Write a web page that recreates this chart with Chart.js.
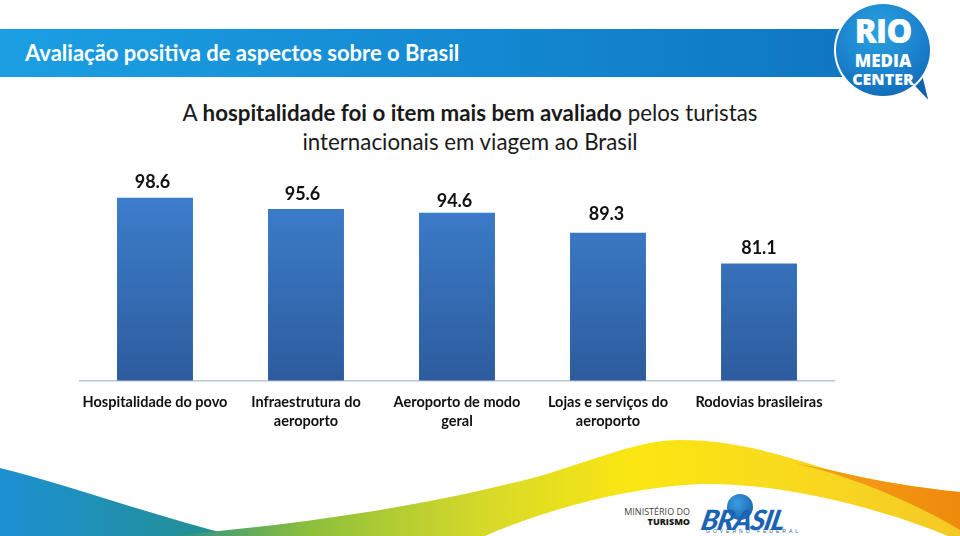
<!DOCTYPE html>
<html lang="pt">
<head>
<meta charset="utf-8">
<script src="https://cdn.jsdelivr.net/npm/chart.js@4.4.1/dist/chart.umd.min.js"></script>
<style>
  html, body { margin: 0; padding: 0; background: #ffffff; }
  #stage { position: relative; width: 960px; height: 536px; overflow: hidden; background: #fff; font-family: Lato, "Open Sans", sans-serif; }
  #waves { position: absolute; left: 0; top: 0; }
  #titlebar { position: absolute; left: 0; top: 29px; width: 860px; height: 48px;
    background: linear-gradient(90deg, #1b9fe2 0%, #1489d3 55%, #0f76c2 100%); }
  #titlebar span { position: absolute; left: 25px; top: 10px; color: #fff; font: bold 22px Lato, sans-serif; }
  #subtitle { position: absolute; left: 120px; width: 700px; top: 98px; text-align: center; color: #1a1a1a;
    font: 22.3px Lato, sans-serif; line-height: 29px; }
  #subtitle b { font-weight: bold; }
  #logo { position: absolute; left: 834px; top: 2px; width: 98px; height: 96px; }
  #logo .circle { position: absolute; left: 0; top: 0; width: 98px; height: 96px; border-radius: 50%;
    background: radial-gradient(circle at 45% 30%, #2aa2e0 0%, #1a80cc 55%, #0d5ca8 100%); border: 2px solid #ffffff; box-sizing: border-box; }
  #logo .tail { position: absolute; left: 78px; top: 70px; width: 0; height: 0; border-left: 10px solid transparent; border-right: 6px solid transparent; border-top: 30px solid #0f62ac; transform: rotate(-25deg); }
  #logo .txt { position: absolute; left: 0; width: 98px; text-align: center; color: #fff; font-family: "Open Sans", Lato, sans-serif; font-weight: 800; }
  #chartwrap { position: absolute; left: 0; top: 0; width: 960px; height: 536px; }
  #mt { position: absolute; left: 598px; top: 507px; width: 92px; text-align: right; font: 9px "Open Sans", sans-serif; color: #444; line-height: 10px; }
  #mt b { color: #1a1a1a; font-weight: 800; }
  #globe { position: absolute; left: 727px; top: 494px; width: 26px; height: 26px; border-radius: 50%; background: radial-gradient(circle at 40% 35%, #3a9ee0, #12579f); }
  #brasil { position: absolute; left: 702px; top: 502px; font: italic 900 28px Lato, sans-serif; color: #1b63b5; letter-spacing: -1px; transform: skewX(-12deg); }
  #gf { position: absolute; left: 706px; top: 528px; font: 5px sans-serif; color: #1b63b5; letter-spacing: 3px; }
</style>
</head>
<body>
<div id="stage">
  <svg id="waves" width="960" height="536" viewBox="0 0 960 536">
    <defs>
      <linearGradient id="gBlue" x1="0" y1="0" x2="1" y2="0">
        <stop offset="0" stop-color="#1d90d2"/>
        <stop offset="1" stop-color="#23908e"/>
      </linearGradient>
      <linearGradient id="gWave" x1="0" y1="0" x2="960" y2="0" gradientUnits="userSpaceOnUse">
        <stop offset="0.18" stop-color="#2a8e8a"/>
        <stop offset="0.32" stop-color="#8cbf3c"/>
        <stop offset="0.50" stop-color="#d5d92a"/>
        <stop offset="0.66" stop-color="#fbe612"/>
        <stop offset="0.85" stop-color="#f8d81f"/>
        <stop offset="1" stop-color="#f4c825"/>
      </linearGradient>
      <linearGradient id="gOrange" x1="0" y1="0" x2="1" y2="0">
        <stop offset="0" stop-color="#f6a21a"/>
        <stop offset="1" stop-color="#ef8a0c"/>
      </linearGradient>
    </defs>
    <path d="M0,468 C70,485 150,515 235,536 L0,536 Z" fill="url(#gBlue)"/>
    <path d="M170,536 C320,522 430,505 540,476 C600,458 640,440 680,440 C740,440 790,458 830,470 C880,482 920,488 960,492 L960,536 L948,536 C880,508 780,482 700,484 C620,488 540,512 485,536 Z" fill="url(#gWave)"/>
    <path d="M790,462 C810,466 820,468 830,470 C880,482 920,488 960,492 L960,530 C920,506 860,478 790,462 Z" fill="url(#gOrange)"/>
  </svg>
  <div id="titlebar"><span>Avaliação positiva de aspectos sobre o Brasil</span></div>
  <div id="logo">
    <div class="tail"></div>
    <div class="circle"></div>
    <div class="txt" style="top:6px;font-size:33px;letter-spacing:-1px;">RIO</div>
    <div class="txt" style="top:47px;font-size:17px;">MEDIA</div>
    <div class="txt" style="top:66px;font-size:16px;">CENTER</div>
  </div>
  <div id="subtitle">A <b>hospitalidade foi o item mais bem avaliado</b> pelos turistas<br>internacionais em viagem ao Brasil</div>
  <div id="mt">MINISTÉRIO DO<br><b>TURISMO</b></div>
  <div id="globe"></div>
  <div id="brasil">BRASIL</div>
  <div id="gf">GOVERNO FEDERAL</div>
  <div id="chartwrap"><canvas id="c" width="960" height="536"></canvas></div>
</div>
<script>
const categories = [
  ["Hospitalidade do povo"],
  ["Infraestrutura do", "aeroporto"],
  ["Aeroporto de modo", "geral"],
  ["Lojas e serviços do", "aeroporto"],
  ["Rodovias brasileiras"]
];
const values = [98.6, 95.6, 94.6, 89.3, 81.1];
const valueLabels = ["98.6", "95.6", "94.6", "89.3", "81.1"];

const labelOffsets = [16, 14.5, 11.5, 19, 15];
const labelShifts = [-2.5, -3.5, -2.5, -1.5, 0];

const valueLabelPlugin = {
  id: 'valueLabels',
  afterDatasetsDraw(chart) {
    const ctx = chart.ctx;
    const meta = chart.getDatasetMeta(0);
    ctx.save();
    ctx.font = 'bold 18px Lato, sans-serif';
    ctx.fillStyle = '#111111';
    ctx.textAlign = 'center';
    ctx.textBaseline = 'middle';
    meta.data.forEach((bar, i) => {
      ctx.fillText(valueLabels[i], bar.x + labelShifts[i], bar.y - labelOffsets[i]);
    });
    ctx.restore();
  }
};

const chart = new Chart(document.getElementById('c'), {
  type: 'bar',
  data: {
    labels: categories,
    datasets: [{
      data: values,
      backgroundColor: (context) => {
        const ca = context.chart.chartArea;
        if (!ca) return '#3a76c4';
        const g = context.chart.ctx.createLinearGradient(0, ca.bottom, 0, ca.top);
        g.addColorStop(0, '#2d5c9d');
        g.addColorStop(1, '#3d7ecd');
        return g;
      },
      borderWidth: 0,
      barPercentage: 0.503,
      categoryPercentage: 1.0
    }]
  },
  options: {
    responsive: false,
    animation: false,
    events: [],
    layout: { padding: { left: 79.5, right: 125.5, top: 192.5, bottom: 0 } },
    plugins: { legend: { display: false }, tooltip: { enabled: false }, title: { display: false } },
    scales: {
      y: { display: false, min: 50, max: 100 },
      x: {
        afterFit: (s) => { s.height = 536 - 380.5; },
        grid: { display: false, drawTicks: false },
        border: { display: true, color: '#b7c5d8', width: 1.5 },
        ticks: {
          color: '#111111',
          padding: 12,
          maxRotation: 0,
          autoSkip: false,
          font: { family: 'Lato, sans-serif', size: 14.5, weight: 'bold', lineHeight: 1.32 }
        }
      }
    }
  },
  plugins: [valueLabelPlugin]
});
</script>
</body>
</html>
